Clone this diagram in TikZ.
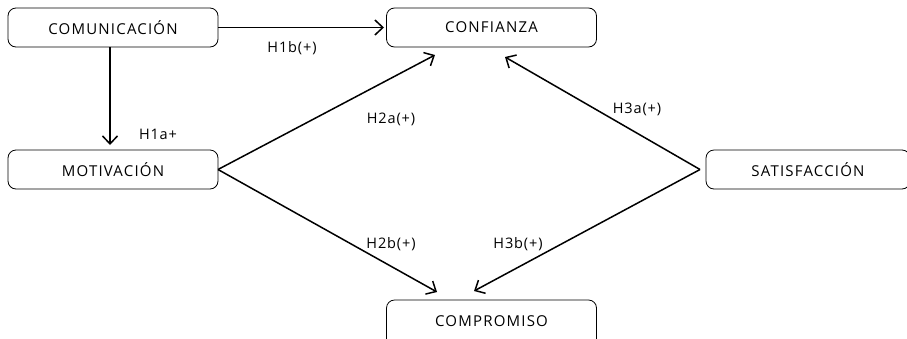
\documentclass[tikz,border=0pt]{standalone}
\usepackage{fontspec}
\setmainfont{Open Sans}[LetterSpace=8]
\newfontfamily\lblfont{Open Sans}[LetterSpace=6]
\usetikzlibrary{arrows.meta}
\begin{document}
\begin{tikzpicture}[x=1pt,y=-1pt,
  box/.style={draw, line width=0.8pt, rounded corners=8pt, minimum width=210pt, minimum height=39pt, inner sep=0pt, font=\fontsize{15}{17}\selectfont},
  link/.style={line width=1.5pt, -{Straight Barb[length=8pt,width=15pt,line width=1.5pt]}},
  lbl/.style={font=\lblfont\fontsize{14.5}{16}\selectfont, inner sep=0pt}]
\useasboundingbox (0,0) rectangle (907,338);
\node[box] (com) at (113,27.5) {COMUNICACIÓN};
\node[box] (con) at (491.5,27.5) {CONFIANZA};
\node[box] (mot) at (113,169.5) {MOTIVACIÓN};
\node[box, minimum width=204pt] (sat) at (808,169.5) {SATISFACCIÓN};
\node[box, minimum height=50pt] (cmp) at (491.5,325) {};
\node[font=\fontsize{15}{17}\selectfont, inner sep=0pt] (cmpt) at (491.5,321) {COMPROMISO};
\coordinate (c1) at (384,27.5);
\coordinate (c2) at (110,145);
\coordinate (c3) at (435,55);
\coordinate (c4) at (437,292);
\coordinate (c5) at (505,57);
\coordinate (c6) at (474,291);
\coordinate (m1) at (218,169.5);
\coordinate (s1) at (700,169.5);
\draw[link] (com.east) -- (c1);
\draw[link] (com.south -| c2) -- (c2);
\draw[link] (m1) -- (c3);
\draw[link] (m1) -- (c4);
\draw[link] (s1) -- (c5);
\draw[link] (s1) -- (c6);
\node[lbl] (l1) at (292,48) {H1b(+)};
\node[lbl] (l2) at (158,134) {H1a+};
\node[lbl] (l3) at (391,119) {H2a(+)};
\node[lbl] (l4) at (637,109) {H3a(+)};
\node[lbl] (l5) at (391,244) {H2b(+)};
\node[lbl] (l6) at (518,244) {H3b(+)};
\end{tikzpicture}
\end{document}
